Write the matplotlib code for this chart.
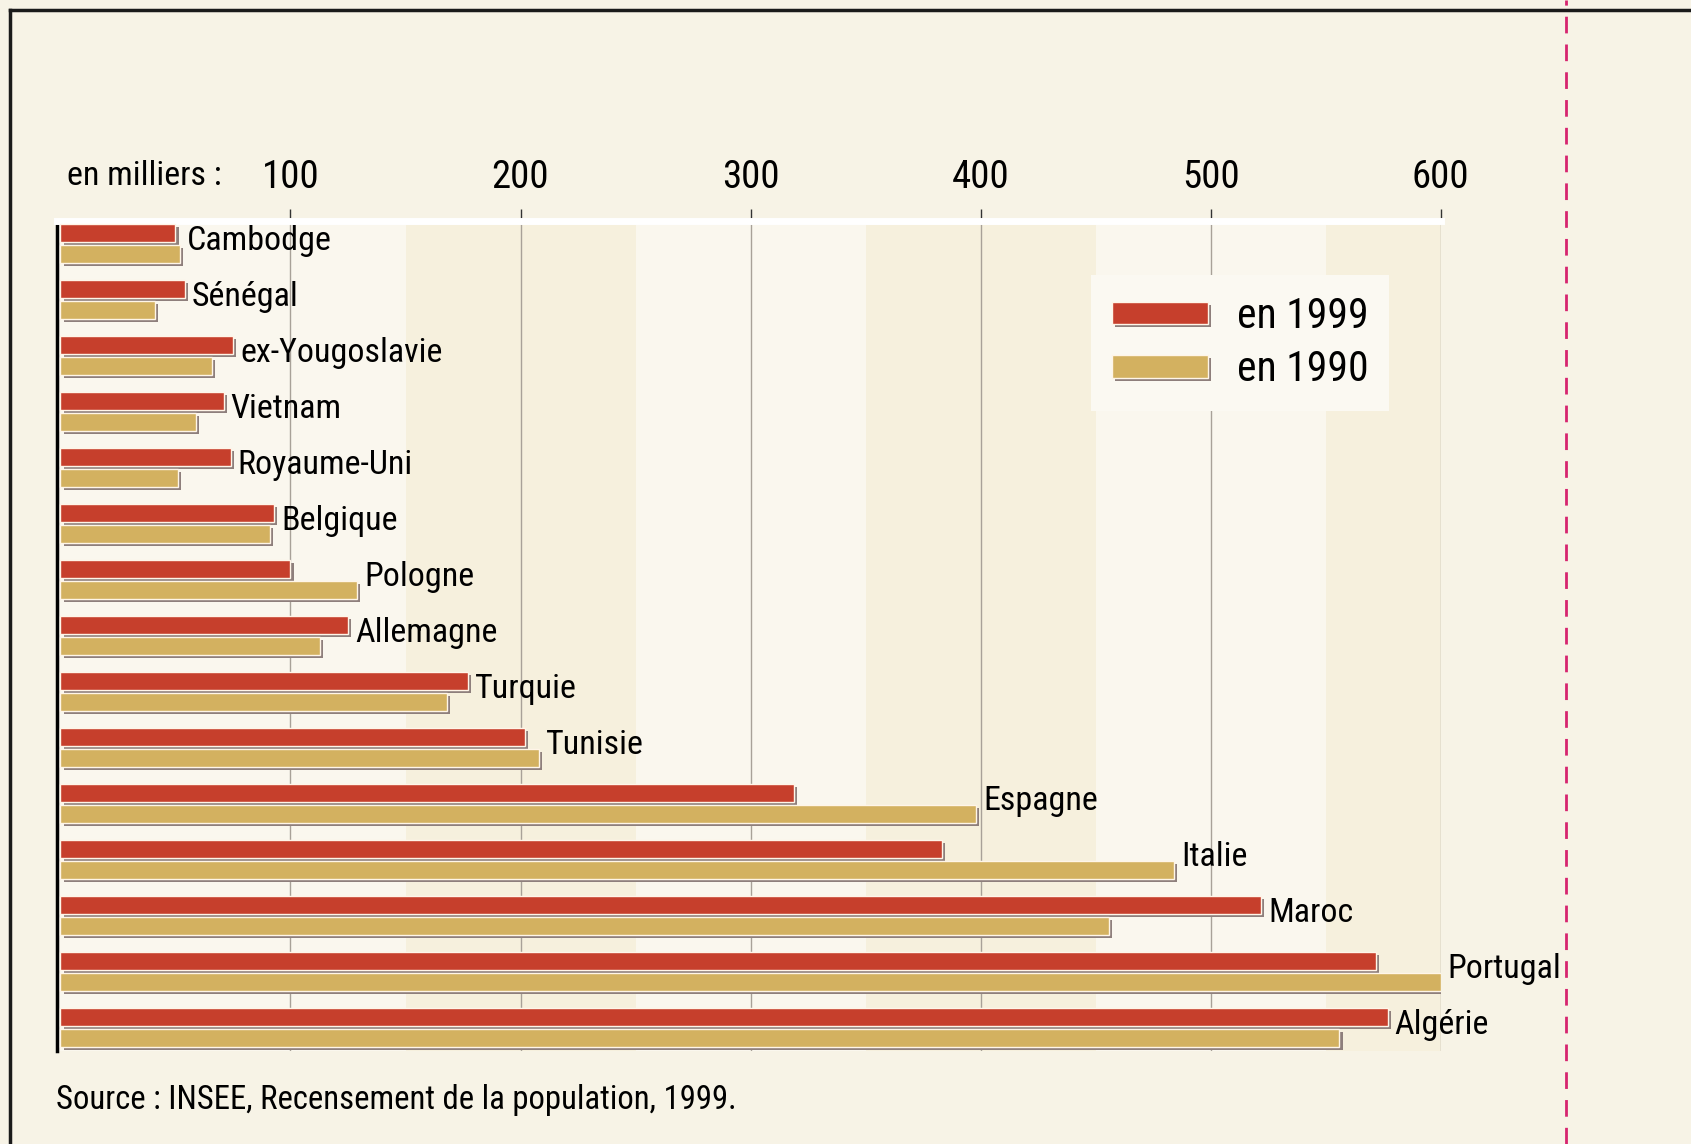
import numpy as np
import matplotlib
matplotlib.use("Agg")
import matplotlib.pyplot as plt
import matplotlib.patheffects as pe
from matplotlib import font_manager
from matplotlib.patches import Patch
from matplotlib.lines import Line2D

# Données (en milliers)
pays = ["Cambodge", "Sénégal", "ex-Yougoslavie", "Vietnam", "Royaume-Uni",
        "Belgique", "Pologne", "Allemagne", "Turquie", "Tunisie",
        "Espagne", "Italie", "Maroc", "Portugal", "Algérie"]
val_1999 = [50, 54, 75, 71, 74, 93, 100, 125, 177, 202, 319, 383, 522, 572, 577]
val_1990 = [52, 41, 66, 59, 51, 91, 129, 113, 168, 208, 398, 484, 456, 600, 556]
ticks = [100, 200, 300, 400, 500, 600]

# police étroite si possible
fonts = font_manager.fontManager.ttflist
noms = {f.name for f in fonts}
echelle = 1.0
famille = None
for cand in ['Liberation Sans Narrow', 'Roboto Condensed', 'Open Sans Condensed', 'DejaVu Sans Condensed']:
    if cand in noms:
        famille = cand
        break
if famille is None:
    if any(f.name == 'DejaVu Sans' and f.stretch == 'condensed' for f in fonts):
        famille = 'DejaVu Sans'
        plt.rcParams['font.stretch'] = 'condensed'
        echelle = 0.9
    elif 'Roboto' in noms:
        famille = 'Roboto'
        echelle = 0.86
    else:
        famille = 'DejaVu Sans'
        echelle = 0.78
plt.rcParams['font.family'] = [famille, 'DejaVu Sans']

rouge = '#c63f2c'
or_ = '#d3b160'
fond = '#f7f3e6'
ombre = [pe.SimplePatchShadow(offset=(2.2, -2.2), shadow_rgbFace='#8e7f7c', alpha=1.0), pe.Normal()]

fig = plt.figure(figsize=(16.91, 11.44), dpi=100, facecolor=fond)
ax = fig.add_axes([57 / 1691, 1 - 1051 / 1144, (1440.7 - 57) / 1691, (1051 - 221) / 1144])
ax.set_facecolor('#faf7ee')

# bandes verticales du fond
for a, b in [(150, 250), (350, 450), (550, 600)]:
    ax.axvspan(a, b, color='#f6f0dd', zorder=0, lw=0)

y = np.arange(len(pays))
ax.barh(y - 0.185, val_1999, height=0.33, color=rouge, edgecolor='#fff5e8', lw=1,
        path_effects=ombre, zorder=3)
ax.barh(y + 0.185, val_1990, height=0.33, color=or_, edgecolor='#fff5e8', lw=1,
        path_effects=ombre, zorder=3)

for i, nom in enumerate(pays):
    ax.annotate(nom, (max(val_1999[i], val_1990[i]), i - 0.05), xytext=(5, 0),
                textcoords='offset points', va='center', ha='left', fontsize=24.5 * echelle,
                annotation_clip=False, zorder=5)

ax.set_xlim(-1.5, 600)
ax.set_ylim(14.42, -0.4)
ax.set_yticks([])
ax.xaxis.tick_top()
ax.set_xticks(ticks)
ax.set_xticklabels([str(t) for t in ticks], fontsize=28 * echelle)
ax.tick_params(axis='x', direction='out', length=9, width=1, color='#333333', pad=9)
ax.grid(axis='x', color='#a8a198', lw=1, zorder=1)
ax.set_axisbelow(True)

for s in ['right', 'bottom']:
    ax.spines[s].set_visible(False)
ax.spines['top'].set_color('white')
ax.spines['top'].set_linewidth(5)
ax.spines['left'].set_color('black')
ax.spines['left'].set_linewidth(2.5)

fig.text(67 / 1691, 1 - 176 / 1144, "en milliers :", fontsize=24.5 * echelle, va='center', ha='left')
fig.text(56 / 1691, 1 - 1100 / 1144, "Source : INSEE, Recensement de la population, 1999.",
         fontsize=23.6 * echelle, va='center', ha='left')

# légende
handles = [Patch(facecolor=rouge, edgecolor='#fff5e8', label='en 1999'),
           Patch(facecolor=or_, edgecolor='#fff5e8', label='en 1990')]
leg = ax.legend(handles=handles, loc='upper left', bbox_to_anchor=(1091 / 1691, 1 - 275 / 1144),
                bbox_transform=fig.transFigure, fontsize=30 * echelle, frameon=True, fancybox=False,
                facecolor='#fbf9f2', edgecolor='none', framealpha=1, handlelength=2.3,
                handleheight=0.45, handletextpad=0.7, labelspacing=0.3, borderpad=0.5,
                borderaxespad=0)
for p in leg.get_patches():
    p.set_path_effects(ombre)

# cadre de la page
fig.add_artist(Line2D([10 / 1691, 1], [1 - 10 / 1144] * 2, color='#1a1a1a', lw=2.5))
fig.add_artist(Line2D([10 / 1691] * 2, [0, 1 - 10 / 1144], color='#1a1a1a', lw=2.5))
fig.add_artist(Line2D([1566 / 1691] * 2, [0, 1], color='#d6246f', lw=2, ls=(0, (6, 4))))

fig.savefig("out.png", dpi=100, facecolor=fond)
